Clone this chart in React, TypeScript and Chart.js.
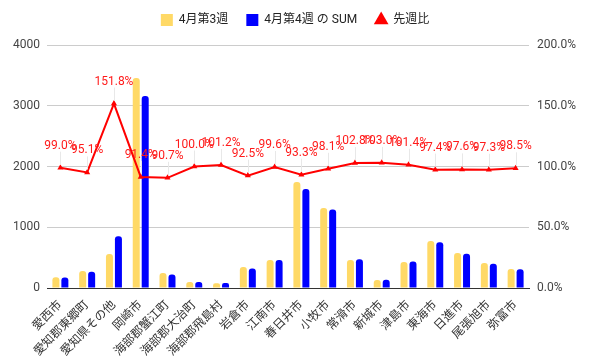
import React, { useEffect, useRef } from "react";
import { Chart, registerables } from "chart.js";

Chart.register(...registerables);

const categories = [
  "愛西市", "愛知郡東郷町", "愛知県その他", "岡崎市", "海部郡蟹江町", "海部郡大治町",
  "海部郡飛島村", "岩倉市", "江南市", "春日井市", "小牧市", "常滑市", "新城市",
  "津島市", "東海市", "日進市", "尾張旭市", "弥富市",
];
const week3 = [175, 280, 560, 3457, 247, 99, 80, 346, 461, 1745, 1317, 461, 130, 430, 774, 576, 411, 313];
const week4 = [173, 266, 850, 3160, 224, 99, 81, 320, 459, 1628, 1292, 474, 134, 436, 754, 562, 400, 308];
const ratio = [99.0, 95.1, 151.8, 91.4, 90.7, 100.0, 101.2, 92.5, 99.6, 93.3, 98.1, 102.8, 103.0, 101.4, 97.4, 97.6, 97.3, 98.5];
const leftTicks = [0, 1000, 2000, 3000, 4000];
const rightTicks = [0, 50, 100, 150, 200];

const FONT = 'Roboto, "Noto Sans CJK JP", sans-serif';

export default function App() {
  const ref = useRef<HTMLCanvasElement | null>(null);

  useEffect(() => {
    if (!ref.current) return;
    Chart.defaults.font.family = FONT;

    const legendPatch = {
      id: "legendPatch",
      beforeInit(chart: any) {
        const lg = chart.legend;
        if (lg) {
          const origFit = lg.fit;
          lg.fit = function () {
            origFit.call(this);
            this.height = 45;
          };
          const origDraw = lg.draw;
          lg.draw = function () {
            const ctx = this.ctx;
            ctx.save();
            ctx.translate(-1, -4);
            origDraw.call(this);
            ctx.restore();
          };
        }
      },
    };

    const labelPlugin = {
      id: "ratioLabels",
      afterDatasetsDraw(chart: any) {
        const ctx = chart.ctx;
        const meta = chart.getDatasetMeta(2);
        ctx.save();
        meta.data.forEach((pt: any, i: number) => {
          const x = Math.round(pt.x) + 0.5;
          const y = pt.y;
          ctx.strokeStyle = "#e8e8e8";
          ctx.lineWidth = 1;
          ctx.beginPath();
          ctx.moveTo(x, y - 3);
          ctx.lineTo(x, y - 16);
          ctx.stroke();
          ctx.fillStyle = "#ff1a1a";
          ctx.font = `12px ${FONT}`;
          ctx.textAlign = "center";
          ctx.textBaseline = "middle";
          ctx.fillText(ratio[i].toFixed(1) + "%", pt.x, y - 22);
        });
        ctx.restore();
      },
    };

    const chart = new Chart(ref.current, {
      type: "bar",
      data: {
        labels: categories,
        datasets: [
          {
            type: "bar",
            label: "4月第3週",
            data: week3,
            backgroundColor: "#ffd966",
            yAxisID: "y",
            categoryPercentage: 0.67,
            barPercentage: 0.78,
            borderRadius: 3,
            pointStyle: "rect",
            order: 1,
          },
          {
            type: "bar",
            label: "4月第4週 の SUM",
            data: week4,
            backgroundColor: "#0000ff",
            yAxisID: "y",
            categoryPercentage: 0.67,
            barPercentage: 0.78,
            borderRadius: 3,
            pointStyle: "rect",
            order: 1,
          },
          {
            type: "line",
            label: "先週比",
            data: ratio,
            borderColor: "#ff0000",
            backgroundColor: "#ff0000",
            borderWidth: 2,
            pointStyle: "triangle",
            pointRadius: 3.5,
            pointBorderWidth: 0,
            tension: 0,
            yAxisID: "y1",
            order: 0,
          },
        ] as any,
      },
      options: {
        responsive: false,
        animation: false,
        layout: { padding: 0 },
        plugins: {
          legend: {
            position: "top",
            labels: {
              usePointStyle: true,
              boxWidth: 12,
              boxHeight: 12,
              padding: 18,
              color: "#222",
              font: { size: 12, family: FONT },
              sort: (a: any, b: any) => a.datasetIndex - b.datasetIndex,
            },
          },
          tooltip: { enabled: false },
        },
        scales: {
          x: {
            grid: { display: false },
            border: { display: true, color: "#333", width: 1 },
            ticks: {
              color: "#333",
              font: { size: 12, family: FONT },
              minRotation: 45,
              maxRotation: 45,
              autoSkip: false,
              padding: 2,
            },
            afterFit(s: any) {
              s.height = 76;
            },
          },
          y: {
            position: "left",
            min: 0,
            max: 4000,
            afterBuildTicks(s: any) {
              s.ticks = leftTicks.map((v) => ({ value: v }));
            },
            grid: { color: "#cccccc", drawTicks: false },
            border: { display: false },
            ticks: {
              color: "#444",
              font: { size: 12, family: FONT },
              padding: 7,
              callback: (v: any) => String(v),
            },
            afterFit(s: any) {
              s.width = 47;
            },
          },
          y1: {
            position: "right",
            min: 0,
            max: 200,
            afterBuildTicks(s: any) {
              s.ticks = rightTicks.map((v) => ({ value: v }));
            },
            grid: { display: false, drawTicks: false },
            border: { display: false },
            ticks: {
              color: "#444",
              font: { size: 12, family: FONT },
              padding: 8,
              callback: (v: any) => Number(v).toFixed(1) + "%",
            },
            afterFit(s: any) {
              s.width = 63;
            },
          },
        },
      },
      plugins: [legendPatch, labelPlugin],
    } as any);

    return () => chart.destroy();
  }, []);

  return (
    <div style={{ position: "absolute", left: 0, top: 0, width: 592, height: 364, background: "#fff" }}>
      <canvas ref={ref} width={592} height={364} style={{ width: 592, height: 364, display: "block" }} />
    </div>
  );
}
